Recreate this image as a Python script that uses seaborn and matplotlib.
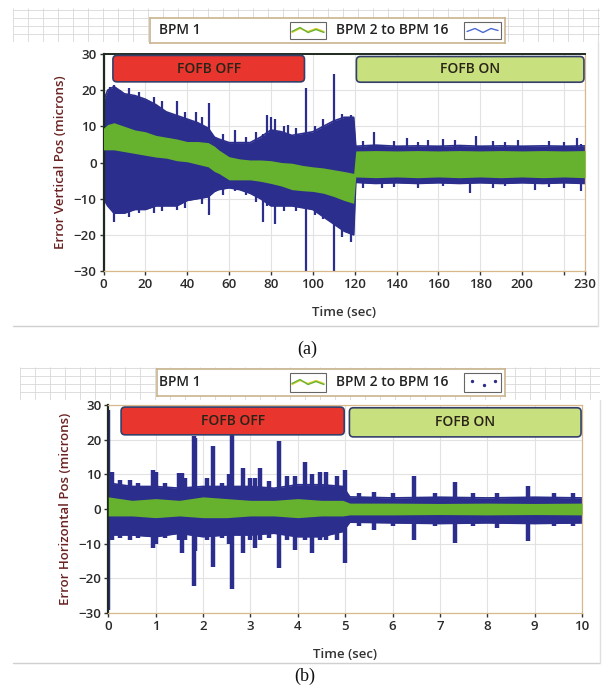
import numpy as np
import pandas as pd
import seaborn as sns
import matplotlib.pyplot as plt
from matplotlib.patches import FancyBboxPatch, Rectangle
from matplotlib.lines import Line2D

# ---- panel (a): vertical error, envelopes ----
t_a = [0, 2, 5, 10, 15, 20, 25, 30, 35, 40, 45, 50, 53, 55, 60, 65, 70, 75, 80, 85,
       90, 95, 100, 105, 110, 115, 119.5, 120.5, 130, 140, 150, 160, 170, 180, 190,
       200, 210, 220, 230]
blue_hi_a = [17, 20, 21, 19, 18.5, 17.5, 16, 14, 13, 12, 11, 9.5, 7, 6.5, 5.5, 5.5, 5.5,
             7, 9, 8.5, 7.5, 8, 8.5, 10, 11.5, 12.5, 12.5, 4.5, 4.8, 4.5, 4.6, 4.5,
             4.7, 4.5, 4.6, 4.5, 4.6, 4.5, 4.6]
blue_lo_a = [-10, -12, -14, -14, -13, -13, -12, -12, -12, -10.5, -10, -9.5, -8, -7.5, -7,
             -7.5, -8.5, -10, -12, -12, -12, -12.5, -13, -15, -17, -19, -20, -5.5, -5.8,
             -5.6, -5.8, -5.6, -5.8, -5.6, -5.8, -5.6, -5.8, -5.6, -5.8]
green_hi_a = [9.5, 10.5, 11, 10, 9, 8.5, 7.5, 7, 6.5, 5.8, 5.8, 5.5, 4.5, 3.5, 1.6, 1,
              0.7, 0.7, 0.5, 0, -0.2, -0.8, -1.2, -1.5, -2, -2.5, -3, 3.2, 3.3, 3.2,
              3.3, 3.2, 3.3, 3.2, 3.3, 3.2, 3.3, 3.2, 3.3]
green_lo_a = [3.5, 3.5, 3.5, 3, 2.5, 2, 1.5, 1.2, 0.5, 0.2, -0.5, -1.2, -2.5, -3, -4.8,
              -4.8, -4.8, -5.2, -5.8, -6.5, -7.5, -7.8, -8, -8.5, -9.4, -10.5, -11.3,
              -4, -4.2, -4, -4.2, -4, -4.2, -4, -4.2, -4, -4.2, -4, -4.2]
spike_t_a = [3, 5, 8, 12, 17, 24, 28, 35, 39, 44, 47, 50.5, 57, 63, 68, 73, 76, 78, 80,
             82, 86, 88, 92, 96.5, 101, 105, 110, 114, 118, 124, 129, 133, 139, 145, 150,
             155, 162, 168, 175, 178, 186, 192, 198, 206, 213, 220, 226, 228]
spike_hi_a = [21, 21.5, 20, 20.5, 19.5, 18, 17, 17, 14, 14, 12.5, 16.5, 8, 9, 7, 8.5, 8,
              13, 12.5, 12, 10, 10.5, 9.5, 20.5, 10, 12, 24.5, 13.5, 13, 6, 8.5, 4, 6, 6.7,
              5.8, 6.2, 6.5, 6.2, 4, 7.3, 6, 5.8, 6.2, 4, 6, 5.8, 6.7, 5]
spike_lo_a = [-12, -16.5, -14, -15, -14, -14, -13.5, -13, -12.5, -10, -11.5, -14.5, -9,
              -8, -9, -11, -16.5, -12, -12, -17, -13.5, -12, -13.5, -30, -14.5, -15.5,
              -30, -20.5, -22, -7, -5.5, -7, -6.8, -5.5, -7, -5.5, -6.5, -5.5, -8.5, -5.5,
              -7, -6.5, -5.5, -7.6, -6.8, -7, -5.5, -8]
xticks_a = [0, 20, 40, 60, 80, 100, 120, 140, 160, 180, 200, 220, 230]
xlabels_a = ["0", "20", "40", "60", "80", "100", "120", "140", "160", "180", "200", "", "230"]

# ---- panel (b): horizontal error ----
t_b = [0, 0.5, 1, 1.5, 2, 2.5, 3, 3.5, 4, 4.5, 4.95, 5.1, 6, 7, 8, 9, 10]
blue_hi_b = [7.5, 6.5, 6.5, 6, 6.5, 6.5, 6.5, 6, 7, 7, 6.5, 3.5, 3.2, 3.4, 3.2, 3.4, 3.2]
blue_lo_b = [-7.5, -7.5, -8, -7, -8, -7.5, -7.5, -7, -8, -8, -6.5, -3.8, -4, -4.2, -4,
             -4.2, -4]
green_hi_b = [3.5, 2.5, 3, 2.5, 3.5, 3, 2.5, 2.5, 3, 2.5, 2.5, 1.7, 1.7, 1.6, 1.7, 1.6, 1.7]
green_lo_b = [-2, -2, -2.5, -2, -2.5, -2.5, -2, -2, -2.5, -2, -2, -1.7, -1.7, -1.6, -1.7,
              -1.6, -1.7]
spike_t_b = [0.0, 0.07, 0.25, 0.46, 0.62, 0.95, 1.0, 1.2, 1.5, 1.55, 1.62, 1.8, 1.83,
             2.08, 2.2, 2.4, 2.55, 2.62, 2.85, 3.0, 3.1, 3.2, 3.4, 3.6, 3.77, 3.95, 4.15,
             4.3, 4.47, 4.6, 4.82, 5.0, 5.3, 5.6, 6.0, 6.45, 6.9, 7.31, 7.7, 8.2, 8.85,
             9.4, 9.8]
spike_hi_b = [28.5, 10.8, 8.5, 8.4, 7.5, 11.3, 10.8, 7.5, 10.3, 10.3, 9, 21, 20.6, 8.9,
              18.2, 7.5, 10, 24, 11.8, 9, 9, 11.8, 8, 19.7, 9.4, 9.5, 13.7, 10, 10.8, 10.8,
              9.4, 11.3, 4.5, 5, 4.5, 9.5, 4.5, 7.9, 4.5, 4.5, 6.5, 4.5, 4.5]
spike_lo_b = [-29, -9, -8.5, -9, -8.5, -11.3, -10, -8.5, -9, -12.7, -9, -22.3, -12, -9,
              -16.6, -8.5, -10, -23, -12.7, -9, -11.3, -9, -8.5, -17, -9, -11.8, -9,
              -12.7, -9, -9, -9, -15.5, -5, -6, -5, -8.9, -5, -9.8, -5, -5.5, -9.3, -5,
              -5]
xticks_b = list(range(0, 11))
xlabels_b = [str(v) for v in xticks_b]

yticks = [-30, -20, -10, 0, 10, 20, 30]

BLUE = "#2b2e8c"
GREEN = "#66b22e"
RED = "#e8352d"
LIME = "#c9e07e"
EDGE = "#34406a"

sns.set_style("white")
plt.rcParams["font.family"] = ["Open Sans", "DejaVu Sans"]

fig = plt.figure(figsize=(6.08, 6.9), dpi=100)


def rect(l, t, r, b):
    # pixel box -> figure fraction
    return [l / 608, 1 - b / 690, (r - l) / 608, (b - t) / 690]


def strip(l, t, r, b):
    ax = fig.add_axes(rect(l, t, r, b))
    ax.set_xlim(0, r - l)
    ax.set_ylim(0, b - t)
    ax.set_facecolor("#f4f4f4")
    ax.vlines(np.arange(0, r - l, 15), 0, b - t, color="#d8d8d8", lw=0.6)
    ax.hlines(np.arange(0, b - t, 8), 0, r - l, color="#d8d8d8", lw=0.6)
    ax.axis("off")


def legend(l, t, r, b, dotted):
    ax = fig.add_axes(rect(l, t, r, b))
    ax.set_xlim(l, r)
    ax.set_ylim(b, t)
    ax.set_facecolor("white")
    ax.set_xticks([])
    ax.set_yticks([])
    for s in ax.spines.values():
        s.set_color("#c9b48f")
        s.set_linewidth(1.2)
    ym = (t + b) / 2
    h = b - t
    ax.text(159, ym, "BPM 1", va="center", fontsize=10, color="#222", weight="semibold")
    ax.add_patch(Rectangle((290, t + 4), 36, h - 8, fc="white", ec="#666", lw=0.8))
    xs = [292, 300, 308, 316, 324]
    ax.plot(xs, [ym + 2, ym - 2, ym + 1, ym - 2, ym + 1], color="#e0d030", lw=1)
    ax.plot(xs, [ym + 1, ym - 3, ym + 2, ym - 1, ym + 2], color=GREEN, lw=1)
    ax.text(336, ym, "BPM 2 to BPM 16", va="center", fontsize=10, color="#222",
            weight="semibold")
    ax.add_patch(Rectangle((464, t + 4), 37, h - 8, fc="white", ec="#666", lw=0.8))
    if dotted:
        ax.scatter([472, 484, 495], [ym - 2, ym + 2, ym - 2], s=2, color=BLUE)
    else:
        ax.plot([467, 475, 483, 491, 498], [ym + 1, ym - 2, ym + 2, ym - 2, ym],
                color="#4a6ad0", lw=1)


def panel(ax, t, bhi, blo, ghi, glo, st, shi, slo, spike_lw, xlim, xticks, xlabels,
          ylabel, off_box, on_box, px_w, px_h, dark_top):
    df = pd.DataFrame({"t": t, "bhi": bhi, "blo": blo, "ghi": ghi, "glo": glo})
    ax.fill_between(df["t"], df["blo"], df["bhi"], color=BLUE, lw=0, zorder=2)
    sns.lineplot(data=df, x="t", y="bhi", ax=ax, color=BLUE, lw=1.2, zorder=2)
    sns.lineplot(data=df, x="t", y="blo", ax=ax, color=BLUE, lw=1.2, zorder=2)
    ax.vlines(st, slo, shi, color=BLUE, lw=spike_lw, zorder=2)
    ax.fill_between(df["t"], df["glo"], df["ghi"], color=GREEN, lw=0, zorder=3)
    ax.set_xlim(*xlim)
    ax.set_ylim(-30, 30)
    ax.set_xticks(xticks)
    ax.set_xticklabels(xlabels)
    ax.set_yticks(yticks)
    ax.grid(True, color="#e2e2e2", lw=0.8)
    ax.set_axisbelow(True)
    ax.tick_params(axis="both", length=3, width=1, color="#333", labelsize=9.5,
                   labelcolor="#2a2a2a", pad=2, direction="out", bottom=True, left=True)
    for lab in ax.get_xticklabels() + ax.get_yticklabels():
        lab.set_fontweight("semibold")
    ax.set_xlabel("Time (sec)", fontsize=9.5, color="#333", labelpad=11, weight="semibold")
    ax.set_ylabel(ylabel, fontsize=9.5, color="#6b2222", labelpad=5, weight="semibold")
    for side in ["bottom", "right", "top"]:
        ax.spines[side].set_color("#d9b98c")
        ax.spines[side].set_linewidth(0.9)
    if dark_top:
        ax.spines["top"].set_color("#1f2a1f")
        ax.spines["top"].set_linewidth(1.4)
    ax.spines["left"].set_color("#1f2a1f")
    ax.spines["left"].set_linewidth(1.6)
    # rounded status boxes
    xr = xlim[1] - xlim[0]
    aspect = (60 / px_h) / (xr / px_w)
    for (x0, x1, y0, y1), fc, label in [(off_box, RED, "FOFB OFF"), (on_box, LIME, "FOFB ON")]:
        ax.add_patch(FancyBboxPatch((x0, y0), x1 - x0, y1 - y0,
                                    boxstyle="round,pad=0,rounding_size=%f" % (xr / px_w * 4),
                                    mutation_aspect=aspect, fc=fc, ec=EDGE, lw=1.2, zorder=5))
        ax.text((x0 + x1) / 2, (y0 + y1) / 2, label, ha="center", va="center",
                fontsize=10, color="#2a2418", zorder=6, weight="semibold")


# panel (a)
strip(13, 8, 600, 42)
legend(150, 18, 505, 43, dotted=False)
ax_a = fig.add_axes(rect(103.5, 54, 585, 271))
panel(ax_a, t_a, blue_hi_a, blue_lo_a, green_hi_a, green_lo_a, spike_t_a, spike_hi_a,
      spike_lo_a, 1.6, (0, 230), xticks_a, xlabels_a, "Error Vertical Pos (microns)",
      (4.5, 96, 22.3, 29.6), (120.8, 229.5, 22.2, 29.3), 481.5, 217, True)
fig.add_artist(Line2D([13 / 608, 598 / 608], [1 - 326 / 690] * 2, color="#d0d0d0", lw=1))
fig.add_artist(Line2D([598 / 608] * 2, [1 - 42 / 690, 1 - 326 / 690], color="#e0e0e0", lw=1))
fig.text(307 / 608, 1 - 349 / 690, "(a)", ha="center", va="center", fontsize=13,
         family="Liberation Serif", color="#111")

# panel (b)
strip(20, 367, 600, 400)
legend(157, 369, 505, 396, dotted=True)
ax_b = fig.add_axes(rect(108.3, 405, 582, 613))
panel(ax_b, t_b, blue_hi_b, blue_lo_b, green_hi_b, green_lo_b, spike_t_b, spike_hi_b,
      spike_lo_b, 3.2, (0, 10), xticks_b, xlabels_b, "Error Horizontal Pos (microns)",
      (0.27, 4.98, 21.4, 29.4), (5.09, 9.98, 20.8, 29.2), 473.7, 208, False)
fig.add_artist(Line2D([13 / 608, 600 / 608], [1 - 663 / 690] * 2, color="#d0d0d0", lw=1))
fig.add_artist(Line2D([600 / 608] * 2, [1 - 400 / 690, 1 - 663 / 690], color="#e0e0e0", lw=1))
fig.text(305 / 608, 1 - 676 / 690, "(b)", ha="center", va="center", fontsize=13,
         family="Liberation Serif", color="#111")

fig.savefig("out.png", dpi=100)
